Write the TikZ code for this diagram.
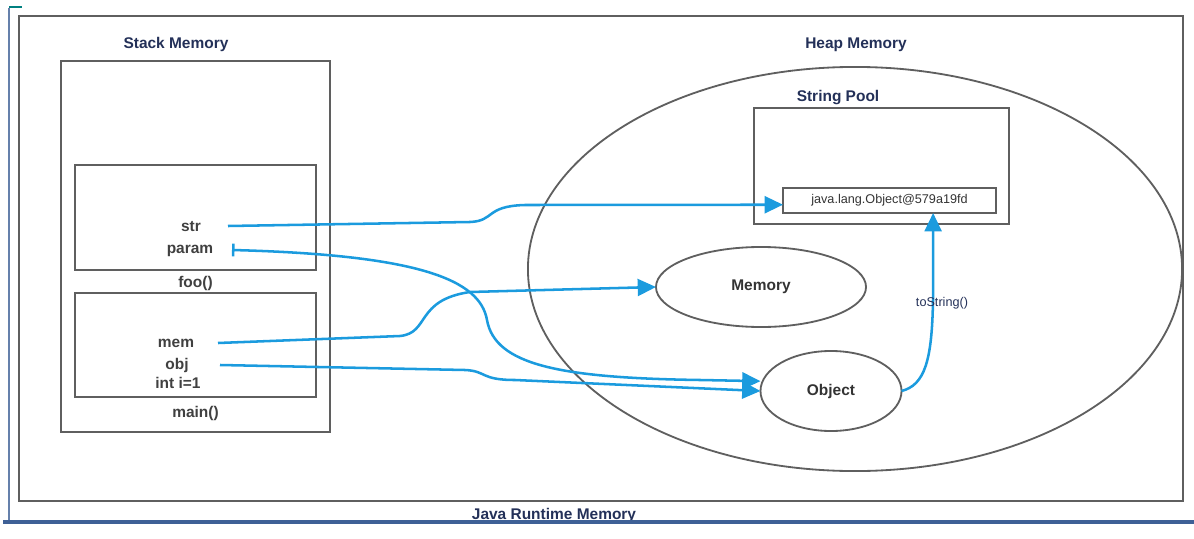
\documentclass[tikz,border=0pt]{standalone}
\usepackage{fontspec}
\setmainfont{Liberation Sans}
\usetikzlibrary{positioning, arrows.meta, shapes.geometric}
\definecolor{ptrblue}{RGB}{27,155,222}
\definecolor{navy}{RGB}{35,48,88}
\definecolor{framegray}{RGB}{95,95,95}
\definecolor{edgeblue}{RGB}{62,96,150}
\begin{document}
\begin{tikzpicture}[x=0.025cm, y=-0.025cm,
		box/.style={draw=framegray, line width=1.3pt, inner sep=0pt, outer sep=0pt},
		oval/.style={ellipse, draw=framegray, line width=1.3pt, inner sep=0pt, outer sep=0pt, font=\bfseries\fontsize{11}{13}\selectfont, text=black!80},
		title/.style={font=\bfseries\fontsize{11}{13}\selectfont, text=navy},
		var/.style={font=\bfseries\fontsize{11}{13}\selectfont, text=black!75},
		ptr/.style={ptrblue, line width=1.8pt, -{Triangle[length=13pt, width=12pt]}}]
		\useasboundingbox (0,0) rectangle (1194,538);

		% frames
		\node [box, minimum width=29.1cm, minimum height=12.125cm] (runtime) at (601,258.5) {};
		\node [box, minimum width=6.725cm, minimum height=9.275cm] (stack) at (195.5,246.5) {};
		\node [box, minimum width=6.025cm, minimum height=2.625cm] (foo) at (195.5,217.5) {};
		\node [box, minimum width=6.025cm, minimum height=2.6cm] (main) at (195.5,345) {};
		\node [oval, minimum width=16.35cm, minimum height=10.1cm] (heap) at (855,269) {};
		\node [box, minimum width=6.375cm, minimum height=2.9cm] (pool) at (881.5,166) {};
		\node [box, minimum width=5.325cm, minimum height=0.625cm, font=\fontsize{9}{11}\selectfont, text=black!80] (hash) at (889.5,200.5) {java.lang.Object@579a19fd};
		\node [oval, minimum width=5.25cm, minimum height=2cm] (memory) at (761,287) {Memory};
		\node [oval, minimum width=3.525cm, minimum height=2cm] (object) at (831,391) {Object};

		% titles
		\node [title] (stacklbl) at (176,45) {Stack Memory};
		\node [title] (heaplbl) at (856,45) {Heap Memory};
		\node [title] (poollbl) at (838,98) {String Pool};
		\node [var, below=0.04cm of foo] (foolbl) {foo()};
		\node [var, below=0.1cm of main] (mainlbl) {main()};
		\node [title] (jrmlbl) at (554,515.5) {Java Runtime Memory};

		% variables
		\node [var] (str) at (191,227) {str};
		\node [var] (param) at (190,251) {param};
		\node [var] (mem) at (176,343) {mem};
		\node [var] (obj) at (177,365) {obj};
		\node [var] (inti) at (178,383) {int i=1};
		\coordinate (strp) at (228,226);
		\coordinate (paramp) at (232,250);
		\coordinate (memp) at (218,343);
		\coordinate (objp) at (220,365);

		% window edges
		\draw [edgeblue!80, line width=1.2pt] (9,8) -- (9,521);
		\draw [teal, line width=1.5pt] (9,7) -- (22,7);
		\draw [edgeblue, line width=3.5pt] (3,522) -- (1194,522);

		% references
		\draw [ptr] (strp) -- (470,222) .. controls (495,221) and (485,206) .. (525,205) -- ([yshift=-3pt]hash.west);
		\draw [ptr, {Bar[width=9pt]}-{Triangle[length=13pt, width=12pt]}] (paramp) .. controls (420,255) and (480,280) .. (487,320) .. controls (495,365) and (560,378) .. (700,380) -- ([yshift=7pt]object.west);
		\draw [ptr] (memp) -- (400,336) .. controls (430,333) and (415,300) .. (470,292) -- (memory.west);
		\draw [ptr] (objp) -- (465,370) .. controls (487,371) and (480,380) .. (515,380) -- (object.west);
		\draw [ptr] (object.east) .. controls (925,385) and (932,360) .. (933,300) -- ([xshift=1.09cm]hash.south);
		\node [font=\fontsize{9}{11}\selectfont, text=navy] (tostr) at (942,303) {toString()};
	\end{tikzpicture}
\end{document}
